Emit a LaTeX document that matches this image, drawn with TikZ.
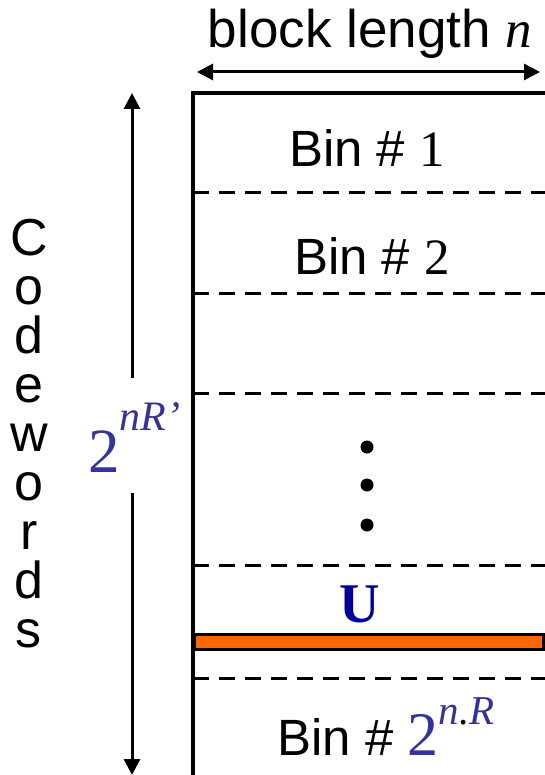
\documentclass[tikz,border=0pt]{standalone}
\usepackage{fontspec}
\setmainfont{Liberation Serif}
\newfontfamily\arialf{Liberation Sans}
\newfontfamily\tmsf{Liberation Serif}
\usetikzlibrary{arrows.meta}
\definecolor{labblue}{RGB}{51,51,153}
\definecolor{ublue}{RGB}{0,0,153}
\definecolor{barorange}{RGB}{255,102,0}
\tikzset{
  sanslabel/.style={inner sep=0pt, font=\arialf\fontsize{51}{51}\selectfont},
  binline/.style={line width=3pt, dash pattern=on 16pt off 10pt},
  frameline/.style={line width=3.5pt},
  dimarrow/.style={line width=3pt, {Triangle[width=16pt,length=16pt]}-{Triangle[width=16pt,length=16pt]}},
  onearrow/.style={line width=3pt, -{Triangle[width=16pt,length=16pt]}},
  dotmark/.style={circle, fill=black, inner sep=0pt, minimum size=13pt}
}
\begin{document}
\begin{tikzpicture}[x=1pt,y=-1pt]
\useasboundingbox (0,0) rectangle (545,775);
% title and width arrow
\node[inner sep=0pt, anchor=base] (title) at (370,48) {\arialf\fontsize{53}{53}\selectfont block length {\tmsf\itshape n}};
\coordinate (wl) at (197,72);
\coordinate (wr) at (540,72);
\draw[dimarrow] (wl) -- (wr);
% frame
\coordinate (ftr) at (545,93);
\coordinate (ftl) at (193,93);
\coordinate (fbl) at (193,775);
\draw[frameline] (ftr) -- (ftl) -- (fbl);
% dashed separators
\foreach \yy [count=\k] in {193,293,393,565,678} {
  \coordinate (dl\k) at (193,\yy);
  \coordinate (dr\k) at (545,\yy);
  \draw[binline] (dl\k) -- (dr\k);
}
% bins
\node[sanslabel, anchor=base] (bin1) at (367,167) {Bin \# {\tmsf 1}};
\node[sanslabel, anchor=base] (bin2) at (372,274) {Bin \# {\tmsf 2}};
\node[dotmark] (d1) at (367,447) {};
\node[dotmark] (d2) at (367,485) {};
\node[dotmark] (d3) at (367,525) {};
\node[inner sep=0pt, anchor=base, text=ublue] (U) at (360,622) {\tmsf\bfseries\fontsize{56}{56}\selectfont U};
\node[draw=black, line width=2.5pt, fill=barorange, inner sep=0pt, minimum width=349pt, minimum height=15pt, anchor=north west] (bar) at (193,633) {};
\node[sanslabel, anchor=base west] (binlast) at (277,755) {Bin \#\ {\tmsf\color{labblue}\fontsize{62}{62}\selectfont 2\raisebox{31pt}{\fontsize{41}{41}\selectfont\itshape n{\color{black}.}R}}};
% vertical codewords arrow
\coordinate (vt) at (132,93);
\coordinate (vgt) at (132,378);
\coordinate (vgb) at (132,493);
\coordinate (vb) at (132,775);
\draw[onearrow] (vgt) -- (vt);
\draw[onearrow] (vgb) -- (vb);
\node[inner sep=0pt, anchor=base west, text=labblue] (count) at (88,472) {\tmsf\fontsize{63}{63}\selectfont 2\raisebox{42pt}{\fontsize{42}{42}\selectfont\itshape nR\textquoteright}};
% vertical word
\foreach \ch [count=\i] in {C,o,d,e,w,o,r,d,s} {
  \node[inner sep=0pt, anchor=base, font=\arialf\fontsize{52}{52}\selectfont] (cw\i) at (29,{255+49*(\i-1)}) {\ch};
}
\end{tikzpicture}
\end{document}
